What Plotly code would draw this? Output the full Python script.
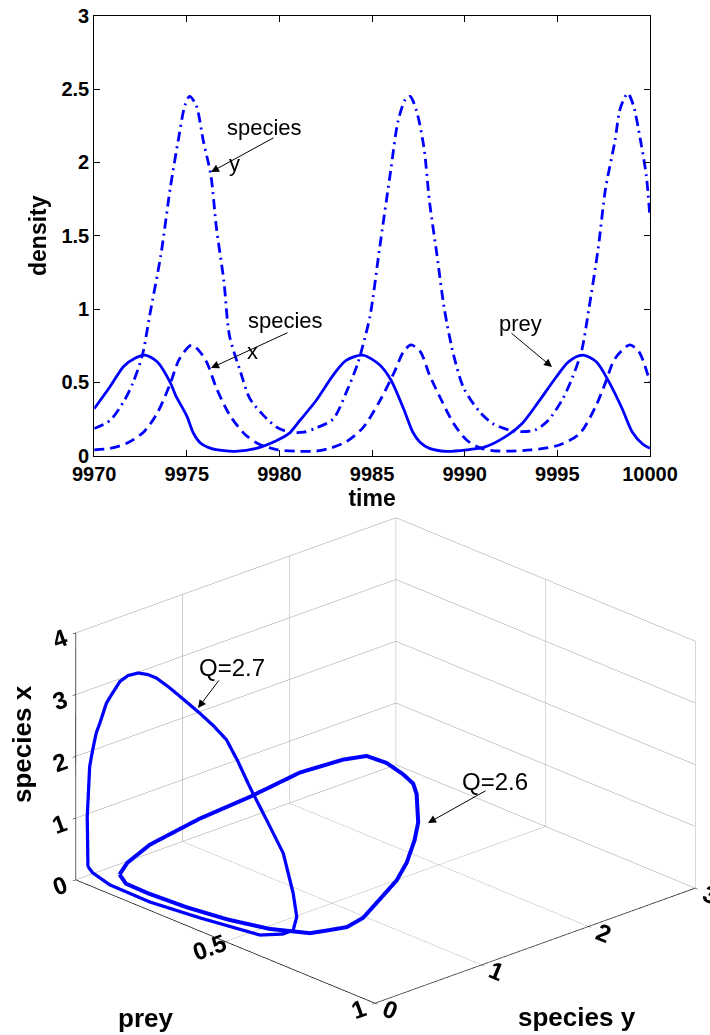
import plotly.graph_objects as go

# ---------------- top panel: time series ----------------
TIME_PREY = [9970, 9970.85, 9971.6, 9972.2, 9972.75, 9973.4, 9974.1, 9974.4, 9975.0, 9975.35,
             9975.75, 9976.3, 9977.0, 9977.6, 9978.75, 9979.8, 9980.5, 9981.1, 9982.0, 9982.9,
             9983.6, 9984.5, 9985.4, 9986.0, 9986.7, 9987.2, 9987.6, 9988.1, 9989.0, 9990.1,
             9991.1, 9992.2, 9993.1, 9994.0, 9994.9, 9995.6, 9996.35, 9997.1, 9997.8, 9998.5,
             9999.05, 9999.6, 10000]
PREY = [0.32, 0.47, 0.61, 0.665, 0.686, 0.64, 0.50, 0.41, 0.27, 0.155,
        0.085, 0.05, 0.034, 0.03, 0.05, 0.10, 0.15, 0.24, 0.38, 0.55,
        0.65, 0.686, 0.62, 0.52, 0.32, 0.16, 0.09, 0.05, 0.03, 0.04,
        0.06, 0.13, 0.22, 0.37, 0.53, 0.64, 0.686, 0.64, 0.50, 0.32,
        0.16, 0.08, 0.05]

TIME_SX = [9970, 9970.85, 9971.76, 9972.66, 9973.4, 9974.1, 9974.6, 9975.25, 9975.7, 9976.1,
           9976.6, 9977.3, 9978.1, 9978.8, 9979.9, 9981.0, 9982.0, 9982.7, 9983.6, 9984.5,
           9985.4, 9986.2, 9986.7, 9987.1, 9987.6, 9988.1, 9988.7, 9989.4, 9990.1, 9990.9,
           9991.8, 9993.6, 9995.1, 9996.2, 9997.1, 9997.6, 9998.1, 9998.9, 9999.4, 10000]
SPECIES_X = [0.04, 0.05, 0.085, 0.16, 0.29, 0.49, 0.66, 0.755, 0.71, 0.63,
             0.46, 0.28, 0.15, 0.085, 0.04, 0.03, 0.032, 0.05, 0.095, 0.19,
             0.37, 0.57, 0.71, 0.755, 0.71, 0.55, 0.39, 0.22, 0.107, 0.05,
             0.032, 0.04, 0.073, 0.15, 0.345, 0.50, 0.66, 0.755, 0.71, 0.50]

TIME_SY = [9970, 9970.85, 9971.6, 9972.1, 9972.6, 9973.0, 9973.6, 9974.1, 9974.55, 9974.9,
           9975.15, 9975.5, 9975.9, 9976.3, 9976.6, 9977.0, 9977.3, 9977.9, 9978.4, 9979.1,
           9979.9, 9980.6, 9981.3, 9982.0, 9982.9, 9983.6, 9984.2, 9984.5, 9984.9, 9985.4,
           9986.0, 9986.4, 9986.8, 9987.05, 9987.4, 9987.8, 9988.1, 9988.5, 9988.9, 9989.4,
           9989.95, 9990.8, 9991.5, 9992.4, 9993.1, 9993.8, 9994.5, 9995.3, 9995.8, 9996.3,
           9996.7, 9997.2, 9997.6, 9998.1, 9998.4, 9998.8, 9999.1, 9999.5, 9999.8, 10000]
SPECIES_Y = [0.185, 0.24, 0.37, 0.50, 0.686, 0.96, 1.37, 1.82, 2.16, 2.39,
             2.45, 2.39, 2.14, 1.91, 1.55, 1.19, 0.82, 0.57, 0.39, 0.28,
             0.19, 0.16, 0.16, 0.19, 0.25, 0.43, 0.62, 0.75, 0.96, 1.41,
             1.94, 2.28, 2.43, 2.45, 2.35, 2.10, 1.73, 1.37, 1.00, 0.686,
             0.46, 0.30, 0.22, 0.175, 0.164, 0.175, 0.24, 0.39, 0.53, 0.71,
             1.00, 1.41, 1.82, 2.14, 2.37, 2.47, 2.39, 2.14, 1.91, 1.62]

X_TICKS = [9970, 9975, 9980, 9985, 9990, 9995, 10000]
X_TICKTEXT = ["9970", "9975", "9980", "9985", "9990", "9995", "10000"]
Y_TICKS = [0, 0.5, 1, 1.5, 2, 2.5, 3]
Y_TICKTEXT = ["0", "0.5", "1", "1.5", "2", "2.5", "3"]

# ---------------- bottom panel: phase-space loops (prey, species y, species x) ----------------
Q26_PREY = [0.05, 0.03, 0.03, 0.035, 0.04, 0.05, 0.08, 0.098, 0.176, 0.245, 0.293, 0.333, 0.431,
            0.49, 0.553, 0.598, 0.624, 0.657, 0.664, 0.642, 0.622, 0.53, 0.42, 0.30, 0.18, 0.10]
Q26_SY = [0.27, 0.40, 0.61, 1.06, 1.52, 1.96, 2.28, 2.45, 2.42, 2.38, 2.34, 2.26, 2.0,
          1.8, 1.55, 1.33, 1.1, 0.85, 0.68, 0.55, 0.45, 0.33, 0.25, 0.20, 0.18, 0.19]
Q26_SX = [0.02, 0.09, 0.25, 0.40, 0.48, 0.62, 0.69, 0.68, 0.74, 0.72, 0.69, 0.65, 0.55,
          0.50, 0.42, 0.36, 0.25, 0.17, 0.14, 0.12, 0.10, 0.06, 0.04, 0.03, 0.025, 0.02]

Q27_PREY = [0.023, 0.010, 0.018, 0.028, 0.04, 0.052, 0.074, 0.091, 0.119, 0.146,
            0.18, 0.213, 0.241, 0.28, 0.32, 0.386, 0.431, 0.475, 0.514, 0.553,
            0.609, 0.665, 0.698, 0.71, 0.698, 0.664, 0.598, 0.40, 0.23, 0.096, 0.039]
Q27_SY = [0.05, 0.08, 0.08, 0.08, 0.08, 0.08, 0.08, 0.08, 0.08, 0.08,
          0.08, 0.08, 0.08, 0.08, 0.08, 0.08, 0.08, 0.08, 0.08, 0.08,
          0.08, 0.08, 0.08, 0.08, 0.08, 0.08, 0.05, 0.04, 0.05, 0.05, 0.05]
Q27_SX = [0.23, 0.99, 1.82, 2.11, 2.41, 2.59, 2.96, 3.13, 3.40, 3.55,
          3.66, 3.70, 3.70, 3.64, 3.56, 3.42, 3.31, 3.17, 2.89, 2.56,
          2.14, 1.71, 1.13, 0.77, 0.53, 0.40, 0.27, 0.16, 0.07, 0.08, 0.16]

W, H = 710, 1035
BLUE = "#0000ff"
FONT = "Liberation Sans"


def closed(a):
    return list(a) + [a[0]]


fig = go.Figure()
fig.add_trace(go.Scatter(x=TIME_PREY, y=PREY, mode="lines", name="prey",
                         line=dict(color=BLUE, width=2.8, shape="spline", smoothing=0.8)))
fig.add_trace(go.Scatter(x=TIME_SX, y=SPECIES_X, mode="lines", name="species x",
                         line=dict(color=BLUE, width=2.8, shape="spline", smoothing=0.8, dash="10px,6px")))
fig.add_trace(go.Scatter(x=TIME_SY, y=SPECIES_Y, mode="lines", name="species y",
                         line=dict(color=BLUE, width=2.8, shape="spline", smoothing=0.8,
                                   dash="10px,5px,2px,5px")))

fig.add_trace(go.Scatter3d(x=closed(Q26_PREY), y=closed(Q26_SY), z=closed(Q26_SX), mode="lines",
                           line=dict(color=BLUE, width=8), scene="scene", name="Q=2.6"))
fig.add_trace(go.Scatter3d(x=closed(Q27_PREY), y=closed(Q27_SY), z=closed(Q27_SX), mode="lines",
                           line=dict(color=BLUE, width=6.5), scene="scene", name="Q=2.7"))

bold_tick = dict(family=FONT, size=20, color="black", weight="bold")
bold_title = dict(family=FONT, size=23, color="black", weight="bold")

# px -> top axes data helpers (plot area: x 94.2..650, y 15.7..455.7)
def tx(px):
    return 9970 + (px - 94.2) / (650 - 94.2) * 30

def vy(py):
    return (455.7 - py) / (455.7 - 15.7) * 3

annots = []
for tip_x, tip_y, ax, ay in [(211, 172, 64, -35), (211, 368, 78, -36), (552, 367, -42, -35)]:
    annots.append(dict(x=tx(tip_x), y=vy(tip_y), xref="x", yref="y", text="", showarrow=True,
                       ax=ax, ay=ay, arrowhead=2, arrowsize=1.6, arrowwidth=1, arrowcolor="black"))
for txt, px, py in [("species", 225, 127), ("y", 227, 163), ("species", 246, 320),
                    ("x", 245, 351), ("prey", 497, 323)]:
    annots.append(dict(x=tx(px), y=vy(py), xref="x", yref="y", text=txt, showarrow=False,
                       xanchor="left", yanchor="middle",
                       font=dict(family=FONT, size=22, color="black")))
for tip, tail in [((198, 708), (220, 679)), ((428, 823), (487, 790))]:
    annots.append(dict(x=tip[0] / W, y=1 - tip[1] / H, xref="paper", yref="paper", text="",
                       showarrow=True, ax=tail[0] - tip[0], ay=tail[1] - tip[1],
                       arrowhead=2, arrowsize=1.6, arrowwidth=1, arrowcolor="black"))
for txt, px, py in [("Q=2.7", 197, 667), ("Q=2.6", 460, 781)]:
    annots.append(dict(x=px / W, y=1 - py / H, xref="paper", yref="paper", text=txt,
                       showarrow=False, xanchor="left", yanchor="middle",
                       font=dict(family=FONT, size=24, color="black")))
# 3-D axis titles placed as in the original figure
t3 = dict(family=FONT, size=26, color="black", weight="bold")
for txt, px, py, ang in [("prey", 145, 1018, 0), ("species y", 577, 1017, 0), ("species x", 22, 744, -90)]:
    annots.append(dict(x=px / W, y=1 - py / H, xref="paper", yref="paper", text=txt,
                       showarrow=False, xanchor="center", yanchor="middle", textangle=ang, font=t3))

# camera: orthographic view direction and a small sideways shift of the look-at point
view_dir = (0.6746, -0.6298, 0.385)
right_dir = (0.6824, 0.7310, 0.0)
shift = -0.111
cen = dict(x=right_dir[0] * shift, y=right_dir[1] * shift, z=0.0)
d = 2.0
eye = dict(x=cen["x"] + view_dir[0] * d, y=cen["y"] + view_dir[1] * d, z=cen["z"] + view_dir[2] * d)

axis3d = dict(showbackground=False, showgrid=True, gridcolor="#999999", gridwidth=1,
              showline=True, linecolor="black", linewidth=1.5, zeroline=False,
              ticks="outside", tickcolor="black", ticklen=4, showspikes=False, title=dict(text=""),
              tickfont=dict(family=FONT, size=17, color="black", weight="bold"))

fig.update_layout(
    width=W, height=H, margin=dict(l=0, r=0, t=0, b=0, autoexpand=False),
    paper_bgcolor="white", plot_bgcolor="white", showlegend=False, hovermode=False,
    xaxis=dict(domain=[94.2 / W, 650 / W], range=[9970, 10000], tickvals=X_TICKS,
               ticktext=X_TICKTEXT, automargin=False,
               ticks="inside", ticklen=6, tickcolor="black", showline=True, linecolor="black",
               linewidth=1, mirror="ticks", showgrid=False, zeroline=False,
               tickfont=bold_tick, title=dict(text="time", font=bold_title, standoff=4)),
    yaxis=dict(domain=[1 - 455.7 / H, 1 - 15.7 / H], range=[0, 3], tickvals=Y_TICKS,
               ticktext=Y_TICKTEXT, automargin=False,
               ticks="inside", ticklen=6, tickcolor="black", showline=True, linecolor="black",
               linewidth=1, mirror="ticks", showgrid=False, zeroline=False,
               tickfont=bold_tick, title=dict(text="density", font=bold_title, standoff=8)),
    scene=dict(
        domain=dict(x=[0, 1], y=[0, 0.53]),
        aspectmode="manual", aspectratio=dict(x=1.5975, y=1.596, z=0.975),
        bgcolor="rgba(0,0,0,0)",
        camera=dict(projection=dict(type="orthographic"), eye=eye, center=cen,
                    up=dict(x=0, y=0, z=1)),
        xaxis=dict(axis3d, range=[0, 1], tickvals=[0, 0.5, 1], ticktext=["0", "0.5", "1"]),
        yaxis=dict(axis3d, range=[0, 3], tickvals=[0, 1, 2, 3], ticktext=["0", "1", "2", "3"]),
        zaxis=dict(axis3d, range=[0, 4], tickvals=[0, 1, 2, 3, 4], ticktext=["0", "1", "2", "3", "4"]),
    ),
    annotations=annots,
)

fig.write_html("out.html", config={"displayModeBar": False},
               post_script="document.body.style.margin='0px';")
